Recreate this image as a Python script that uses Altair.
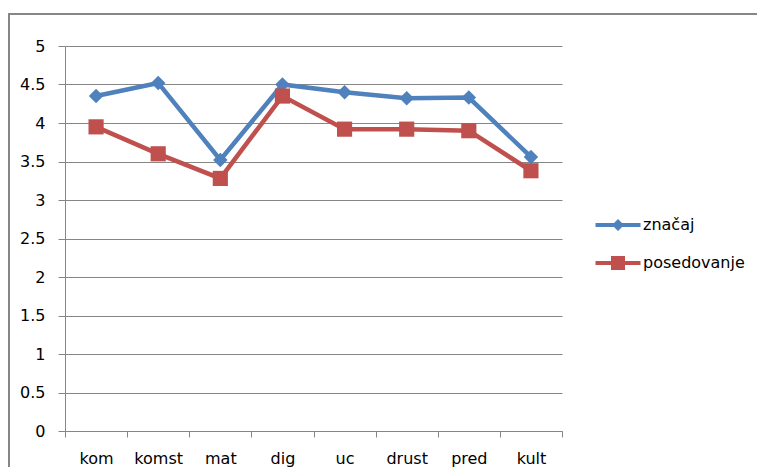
import altair as alt
import pandas as pd

categories = ["kom", "komst", "mat", "dig", "uc", "drust", "pred", "kult"]
znacaj = [4.35, 4.52, 3.52, 4.50, 4.40, 4.32, 4.33, 3.56]
posedovanje = [3.95, 3.60, 3.28, 4.35, 3.92, 3.92, 3.90, 3.38]
series_names = ["značaj", "posedovanje"]
series_colors = ["#4F81BD", "#C0504D"]
y_ticks = [0, 0.5, 1, 1.5, 2, 2.5, 3, 3.5, 4, 4.5, 5]

rows = []
for name, vals in zip(series_names, [znacaj, posedovanje]):
    for i, (c, v) in enumerate(zip(categories, vals)):
        rows.append({"cat": c, "value": v, "series": name, "order": i})
df = pd.DataFrame(rows)

FONT = "DejaVu Sans"
GRAY = "#868686"

x_enc = alt.X("cat:N", sort=categories,
              scale=alt.Scale(type="band", paddingInner=0, paddingOuter=0),
              axis=alt.Axis(title=None, labelAngle=0, tickBand="extent", grid=False,
                            domainColor=GRAY, tickColor=GRAY, tickSize=6,
                            labelPadding=13, labelFont=FONT, labelFontSize=16,
                            labelColor="#000000"))
y_enc = alt.Y("value:Q", scale=alt.Scale(domain=[0, 5], nice=False),
              axis=alt.Axis(title=None, values=y_ticks, format="~g", grid=True,
                            gridColor=GRAY, gridWidth=1, domainColor=GRAY,
                            tickColor=GRAY, tickSize=7, labelPadding=13,
                            labelFont=FONT, labelFontSize=16, labelColor="#000000"))

# legend symbols: line segment + marker (custom paths)
dia_path = ("M-2.25,-0.2L2.25,-0.2L2.25,0.2L-2.25,0.2Z"
            "M0,-0.6L0.6,0L0,0.6L-0.6,0Z")
sq_path = ("M-2.25,-0.2L2.25,-0.2L2.25,0.2L-2.25,0.2Z"
           "M-0.7,-0.7L0.7,-0.7L0.7,0.7L-0.7,0.7Z")

legend = alt.Legend(
    title=None, orient="none", legendX=543, legendY=169, padding=0,
    symbolSize=400, rowPadding=20, labelOffset=15, labelFont=FONT,
    labelFontSize=16, labelColor="#000000", symbolStrokeWidth=0,
)


def series_layers(name, color, shape, size):
    base = alt.Chart(df).transform_filter(alt.datum.series == name)
    line = base.mark_line(strokeWidth=4.5, color=color).encode(x=x_enc, y=y_enc, order="order:Q")
    pts = base.mark_point(shape=shape, filled=True, size=size, opacity=1, color=color).encode(x=x_enc, y=y_enc)
    return line, pts


l1, p1 = series_layers("značaj", series_colors[0], "diamond", 210)
l2, p2 = series_layers("posedovanje", series_colors[1], "square", 230)

legend_layer = alt.Chart(df).transform_filter("false").mark_point(filled=True, opacity=1).encode(
    x=x_enc, y=y_enc,
    color=alt.Color("series:N", scale=alt.Scale(domain=series_names, range=series_colors), legend=legend),
    shape=alt.Shape("series:N", scale=alt.Scale(domain=series_names, range=[dia_path, sq_path]), legend=legend),
)

one = alt.Data(values=[{"a": 1}])
border_top = alt.Chart(one).mark_rule(color=GRAY, strokeWidth=2).encode(
    x=alt.value(-57), x2=alt.value(700), y=alt.value(-32))
border_left = alt.Chart(one).mark_rule(color=GRAY, strokeWidth=2).encode(
    x=alt.value(-56), y=alt.value(-32), y2=alt.value(430))

chart = alt.layer(border_top, border_left, l1, p1, l2, p2, legend_layer).properties(
    width=497, height=385,
    autosize=alt.AutoSizeParams(type="none"),
    padding={"left": 57, "top": 38, "right": 195, "bottom": 36},
).configure_view(strokeWidth=0)

chart.save("out.html", embed_options={"renderer": "svg", "actions": False})
